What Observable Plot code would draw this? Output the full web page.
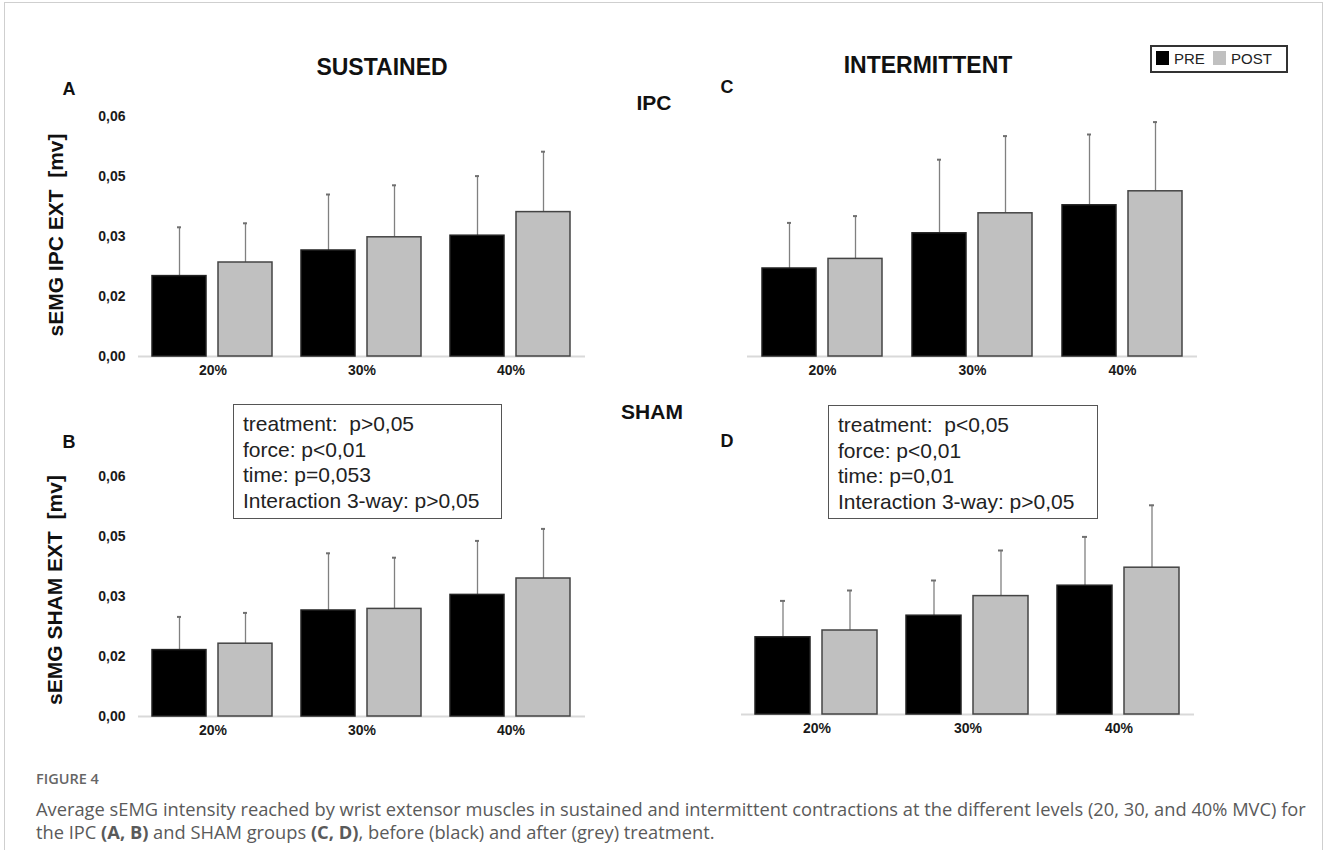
<!DOCTYPE html>
<html>
<head>
<meta charset="utf-8">
<script src="https://cdn.jsdelivr.net/npm/d3@7"></script>
<script src="https://cdn.jsdelivr.net/npm/@observablehq/plot@0.6"></script>
<style>
  html, body { margin: 0; padding: 0; background: #fff; }
  #fig { position: relative; width: 1328px; height: 850px; overflow: hidden; font-family: "Liberation Sans", Arial, sans-serif; }
  .abs { position: absolute; white-space: pre; line-height: 1; }
  .ctr { transform: translate(-50%, -50%); }
  .stat { position: absolute; border: 1.5px solid #555; box-sizing: border-box; font-size: 21px; line-height: 25.7px; padding: 6px 0 0 9px; color: #222; white-space: pre; }
  .caption { font-family: "Open Sans", sans-serif; color: #5a5a5a; }
</style>
</head>
<body>
<div id="fig"></div>
<script>
// ---------------- data ----------------
const levels = ["20%", "30%", "40%"];
const phases = ["PRE", "POST"];
const yTickValues = [0, 0.015, 0.03, 0.045, 0.06];
const yTickLabels = ["0,00", "0,02", "0,03", "0,05", "0,06"];

// Panel A: sustained, IPC
const sustIpcPre = [0.0201, 0.0265, 0.0302];
const sustIpcPreSd = [0.0122, 0.0140, 0.0149];
const sustIpcPost = [0.0235, 0.0298, 0.0361];
const sustIpcPostSd = [0.0098, 0.0130, 0.0151];
// Panel C: intermittent, IPC
const interIpcPre = [0.0220, 0.0308, 0.0378];
const interIpcPreSd = [0.0114, 0.0184, 0.0177];
const interIpcPost = [0.0244, 0.0358, 0.0413];
const interIpcPostSd = [0.0107, 0.0193, 0.0173];
// Panel B: sustained, SHAM
const sustShamPre = [0.0166, 0.0265, 0.0304];
const sustShamPreSd = [0.0083, 0.0143, 0.0135];
const sustShamPost = [0.0182, 0.0269, 0.0345];
const sustShamPostSd = [0.0077, 0.0128, 0.0124];
// Panel D: intermittent, SHAM
const interShamPre = [0.0193, 0.0247, 0.0322];
const interShamPreSd = [0.0091, 0.0088, 0.0122];
const interShamPost = [0.0210, 0.0296, 0.0367];
const interShamPostSd = [0.0100, 0.0114, 0.0156];

const statsB = ["treatment:  p>0,05", "force: p<0,01", "time: p=0,053", "Interaction 3-way: p>0,05"];
const statsD = ["treatment:  p<0,05", "force: p<0,01", "time: p=0,01", "Interaction 3-way: p>0,05"];

// ---------------- helpers ----------------
function rows(pre, preSd, post, postSd) {
  const out = [];
  levels.forEach((lv, i) => {
    out.push({level: lv, phase: "PRE", mean: pre[i], top: pre[i] + preSd[i]});
    out.push({level: lv, phase: "POST", mean: post[i], top: post[i] + postSd[i]});
  });
  return out;
}

const fig = document.getElementById("fig");

function addText(txt, x, y, css, center = true) {
  const d = document.createElement("div");
  d.className = "abs" + (center ? " ctr" : "");
  d.textContent = txt;
  d.style.left = x + "px";
  d.style.top = y + "px";
  Object.assign(d.style, css);
  fig.appendChild(d);
  return d;
}

function panel(data, {left, top, width, marginLeft, marginRight, marginTop, showY}) {
  const height = marginTop + 240 + 30;
  const pre = data.filter(d => d.phase === "PRE");
  const post = data.filter(d => d.phase === "POST");
  const marks = [
    Plot.axisFx({anchor: "bottom", tickSize: 0, tickPadding: 9, fontSize: 14, fontWeight: "bold", label: null}),
    Plot.ruleY([0], {stroke: "#d9d9d9", strokeWidth: 2}),
    Plot.ruleX(data, {fx: "level", x: "phase", y1: "mean", y2: "top", stroke: "#808080", strokeWidth: 1.3}),
    Plot.tickY(data, {fx: "level", x: "phase", y: "top", stroke: "#707070", strokeWidth: 2, insetLeft: 25, insetRight: 25}),
    Plot.barY(pre, {fx: "level", x: "phase", y: "mean", fill: "#000", stroke: "#222", strokeWidth: 1.5}),
    Plot.barY(post, {fx: "level", x: "phase", y: "mean", fill: "#c0c0c0", stroke: "#444", strokeWidth: 1.5})
  ];
  if (showY) {
    marks.unshift(Plot.axisY({ticks: yTickValues, tickFormat: d => yTickLabels[yTickValues.indexOf(d)], tickSize: 0, tickPadding: 13, fontSize: 14, fontWeight: "bold", label: null}));
  }
  const chart = Plot.plot({
    width, height, marginLeft, marginRight, marginTop, marginBottom: 30,
    style: {fontFamily: "Liberation Sans, Arial, sans-serif", fontWeight: "bold", color: "#1a1a1a", background: "transparent"},
    fx: {domain: levels, padding: 0},
    x: {domain: phases, paddingInner: 0.175, paddingOuter: 0.21, axis: null},
    y: {domain: [0, 0.06], axis: showY ? undefined : null},
    marks
  });
  chart.style.position = "absolute";
  chart.style.left = left + "px";
  chart.style.top = top + "px";
  chart.style.overflow = "visible";
  fig.appendChild(chart);
}

// ---------------- panels ----------------
panel(rows(sustIpcPre, sustIpcPreSd, sustIpcPost, sustIpcPostSd), {left: 0, top: 100, width: 600, marginLeft: 137, marginRight: 15, marginTop: 16, showY: true});
panel(rows(interIpcPre, interIpcPreSd, interIpcPost, interIpcPostSd), {left: 600, top: 100, width: 620, marginLeft: 146, marginRight: 22, marginTop: 16, showY: false});
panel(rows(sustShamPre, sustShamPreSd, sustShamPost, sustShamPostSd), {left: 0, top: 460, width: 600, marginLeft: 137, marginRight: 15, marginTop: 16, showY: true});
panel(rows(interShamPre, interShamPreSd, interShamPost, interShamPostSd), {left: 600, top: 458, width: 620, marginLeft: 141, marginRight: 26, marginTop: 16, showY: false});

// ---------------- annotations ----------------
const bold = (size) => ({fontSize: size + "px", fontWeight: "bold", color: "#111"});
addText("SUSTAINED", 382, 67, bold(23));
addText("INTERMITTENT", 928, 65, bold(23));
addText("IPC", 654, 102, bold(21));
addText("SHAM", 652, 411, bold(21));
addText("A", 69, 89, bold(18));
addText("C", 727, 87, bold(18));
addText("B", 69, 442, bold(18));
addText("D", 727, 441, bold(18));
const yt1 = addText("sEMG IPC EXT  [mv]", 55, 235, bold(21));
yt1.style.transform = "translate(-50%, -50%) rotate(-90deg)";
const yt2 = addText("sEMG SHAM EXT  [mv]", 54, 590, bold(21));
yt2.style.transform = "translate(-50%, -50%) rotate(-90deg)";

// stats boxes
function statBox(lines, x, y, w, h) {
  const d = document.createElement("div");
  d.className = "stat";
  d.style.left = x + "px"; d.style.top = y + "px";
  d.style.width = w + "px"; d.style.height = h + "px";
  d.textContent = lines.join("\n");
  fig.appendChild(d);
}
statBox(statsB, 233, 404, 269, 115);
statBox(statsD, 828, 405, 270, 114);

// legend
const leg = document.createElement("div");
leg.style.cssText = "position:absolute;left:1150px;top:45px;width:138px;height:28px;box-sizing:border-box;border:2px solid #333;font-size:15px;color:#222;";
const legColors = ["#000", "#c0c0c0"];
const legX = [4, 61];
phases.forEach((p, i) => {
  const sw = document.createElement("div");
  sw.style.cssText = `position:absolute;left:${legX[i]}px;top:4px;width:13px;height:14px;background:${legColors[i]};`;
  leg.appendChild(sw);
  const t = document.createElement("div");
  t.textContent = p;
  t.style.cssText = `position:absolute;left:${legX[i] + 18}px;top:4px;line-height:16px;`;
  leg.appendChild(t);
});
fig.appendChild(leg);

// caption
addText("FIGURE 4", 36, 772, {fontSize: "14.5px", fontWeight: "600", color: "#666", fontFamily: "'Open Sans', sans-serif"}, false);
const cap = document.createElement("div");
cap.className = "caption";
cap.style.cssText += "position:absolute;left:36px;top:797px;width:1290px;font-size:18.3px;line-height:23px;white-space:nowrap;";
cap.innerHTML = "Average sEMG intensity reached by wrist extensor muscles in sustained and intermittent contractions at the different levels (20, 30, and 40% MVC) for<br>the IPC <b>(A, B)</b> and SHAM groups <b>(C, D)</b>, before (black) and after (grey) treatment.";
fig.appendChild(cap);

// outer frame
const frame = document.createElement("div");
frame.style.cssText = "position:absolute;left:4px;top:2px;width:1319px;height:900px;border:1px solid #cfcfcf;box-sizing:border-box;pointer-events:none;";
fig.appendChild(frame);
</script>
</body>
</html>
